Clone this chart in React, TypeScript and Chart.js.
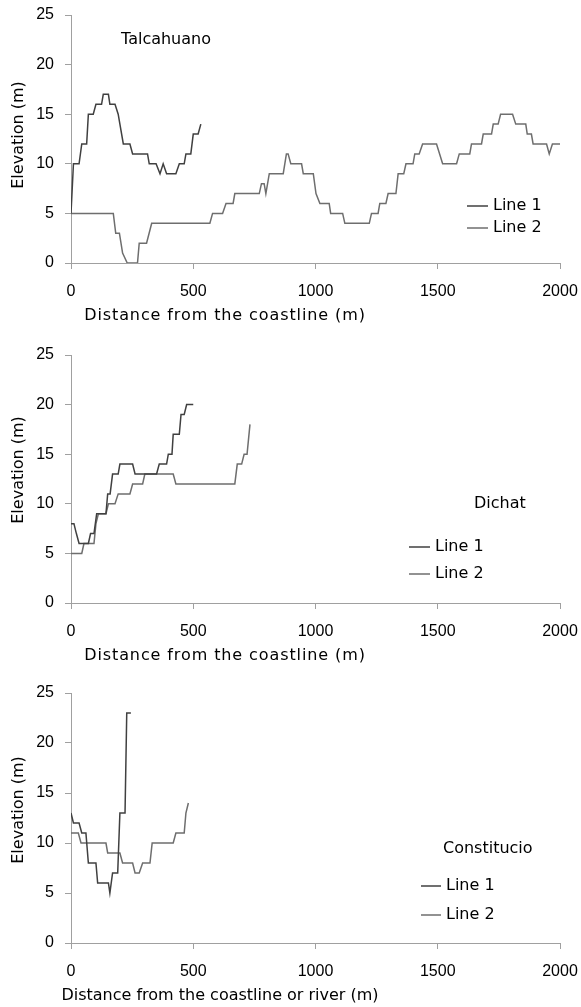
import React, { useEffect, useRef } from 'react';
import { Chart, registerables } from 'chart.js';

Chart.register(...registerables);

// ---------- Data ----------
const X_MIN = 0;
const X_MAX = 2000;
const X_STEP = 500;
const Y_MIN = 0;
const Y_MAX = 25;
const Y_STEP = 5;

const seriesNames = ['Line 1', 'Line 2'];
const siteNames = ['Talcahuano', 'Dichat', 'Constitucio'];
const xTitles = [
  'Distance from the coastline (m)',
  'Distance from the coastline (m)',
  'Distance from the coastline or river (m)',
];
const yTitle = 'Elevation (m)';

// Talcahuano
const talLine1X = [0, 10, 33, 44, 64, 71, 91, 102, 125, 132, 153, 159, 180, 193, 200, 214, 241, 252, 313, 320, 348, 364, 377, 391, 429, 443, 463, 470, 490, 500, 520, 531];
const talLine1Y = [5, 10, 10, 12, 12, 15, 15, 16, 16, 17, 17, 16, 16, 15, 14, 12, 12, 11, 11, 10, 10, 9, 10, 9, 9, 10, 10, 11, 11, 13, 13, 14];
const talLine2X = [0, 173, 183, 198, 211, 230, 272, 279, 309, 330, 568, 579, 620, 634, 663, 670, 770, 779, 790, 797, 811, 868, 881, 888, 899, 943, 950, 991, 1002, 1018, 1056, 1062, 1111, 1120, 1220, 1229, 1256, 1263, 1288, 1297, 1329, 1338, 1361, 1370, 1399, 1406, 1424, 1438, 1495, 1520, 1577, 1588, 1631, 1638, 1679, 1686, 1720, 1727, 1747, 1757, 1806, 1819, 1860, 1866, 1883, 1890, 1945, 1956, 1969, 2000];
const talLine2Y = [5, 5, 3, 3, 1, 0, 0, 2, 2, 4, 4, 5, 5, 6, 6, 7, 7, 8, 8, 7, 9, 9, 11, 11, 10, 10, 9, 9, 7, 6, 6, 5, 5, 4, 4, 5, 5, 6, 6, 7, 7, 9, 9, 10, 10, 11, 11, 12, 12, 10, 10, 11, 11, 12, 12, 13, 13, 14, 14, 15, 15, 14, 14, 13, 13, 12, 12, 11, 12, 12];

// Dichat
const dicLine1X = [0, 12, 22, 33, 71, 80, 94, 105, 143, 150, 160, 170, 193, 200, 252, 262, 350, 361, 391, 398, 413, 418, 443, 450, 463, 473, 500];
const dicLine1Y = [8, 8, 7, 6, 6, 7, 7, 9, 9, 11, 11, 13, 13, 14, 14, 13, 13, 14, 14, 15, 15, 17, 17, 19, 19, 20, 20];
const dicLine2X = [0, 44, 53, 94, 102, 112, 143, 153, 180, 193, 241, 252, 293, 302, 418, 429, 670, 680, 698, 708, 720, 732];
const dicLine2Y = [5, 5, 6, 6, 8, 9, 9, 10, 10, 11, 11, 12, 12, 13, 13, 12, 12, 14, 14, 15, 15, 18];

// Constitucio
const conLine1X = [0, 10, 33, 44, 61, 71, 102, 109, 153, 159, 170, 191, 200, 221, 228, 245];
const conLine1Y = [13, 12, 12, 11, 11, 8, 8, 6, 6, 5, 7, 7, 13, 13, 23, 23];
const conLine2X = [0, 30, 41, 143, 150, 200, 211, 252, 262, 279, 293, 323, 332, 418, 429, 463, 470, 480];
const conLine2Y = [11, 11, 10, 10, 9, 9, 8, 8, 7, 7, 8, 8, 10, 10, 11, 11, 13, 14];

// ---------- Styling ----------
const LINE_COLORS = ['#404040', '#6e6e6e'];
const AXIS_COLOR = '#a0a0a0';
const TICK_FONT = { family: "'Liberation Sans', Arial, sans-serif", size: 16 };
const TEXT_FAMILY = "'DejaVu Sans', sans-serif";

function pts(xs: number[], ys: number[]) {
  return xs.map((x, i) => ({ x, y: ys[i] }));
}

interface PanelSpec {
  top: number;
  height: number;
  padTop: number;
  l1x: number[];
  l1y: number[];
  l2x: number[];
  l2y: number[];
  site: string;
  siteX: number;
  siteY: number;
  legX: number;
  legW: number;
  legTextX: number;
  legY: number[];
  xTitle: string;
  xTitleX: number;
  xTitleSpacing: number;
  yTitleY: number;
}

const overlayPlugin = {
  id: 'overlay',
  afterDraw(chart: any, _args: any, opts: any) {
    const ctx = chart.ctx as any;
    const area = chart.chartArea;
    ctx.save();
    ctx.font = `16px ${TEXT_FAMILY}`;
    ctx.fillStyle = '#000';
    ctx.textBaseline = 'middle';
    ctx.textAlign = 'left';
    ctx.fillText(opts.site, opts.siteX, opts.siteY);
    for (let i = 0; i < 2; i++) {
      const y = opts.legY[i];
      ctx.strokeStyle = LINE_COLORS[i];
      ctx.lineWidth = 1.5;
      ctx.beginPath();
      ctx.moveTo(opts.legX, y);
      ctx.lineTo(opts.legX + opts.legW, y);
      ctx.stroke();
      ctx.fillText(seriesNames[i], opts.legTextX, y);
    }
    // x axis title
    ctx.textAlign = 'center';
    if ('letterSpacing' in ctx) ctx.letterSpacing = `${opts.xTitleSpacing}px`;
    ctx.fillText(opts.xTitle, opts.xTitleX, area.bottom + 53);
    if ('letterSpacing' in ctx) ctx.letterSpacing = '0px';
    // y axis title
    ctx.translate(19, opts.yTitleY);
    ctx.rotate(-Math.PI / 2);
    ctx.fillText(yTitle, 0, 0);
    ctx.restore();
  },
};

function Panel({ spec }: { spec: PanelSpec }) {
  const ref = useRef<HTMLCanvasElement | null>(null);
  useEffect(() => {
    if (!ref.current) return;
    const chart = new Chart(ref.current, {
      type: 'line',
      data: {
        datasets: [
          {
            label: seriesNames[0],
            data: pts(spec.l1x, spec.l1y),
            borderColor: LINE_COLORS[0],
            borderWidth: 1.5,
            pointRadius: 0,
            tension: 0,
            fill: false,
          },
          {
            label: seriesNames[1],
            data: pts(spec.l2x, spec.l2y),
            borderColor: LINE_COLORS[1],
            borderWidth: 1.5,
            pointRadius: 0,
            tension: 0,
            fill: false,
          },
        ],
      },
      options: {
        responsive: false,
        animation: false,
        devicePixelRatio: 1,
        layout: { padding: { top: spec.padTop, right: 21, left: 0, bottom: 0 } },
        plugins: {
          legend: { display: false },
          tooltip: { enabled: false },
          // @ts-ignore
          overlay: {
            site: spec.site,
            siteX: spec.siteX,
            siteY: spec.siteY,
            legX: spec.legX,
            legW: spec.legW,
            legTextX: spec.legTextX,
            legY: spec.legY,
            xTitle: spec.xTitle,
            xTitleX: spec.xTitleX,
            xTitleSpacing: spec.xTitleSpacing,
            yTitleY: spec.yTitleY,
          },
        },
        scales: {
          x: {
            type: 'linear',
            min: X_MIN,
            max: X_MAX,
            ticks: {
              stepSize: X_STEP,
              color: '#000',
              font: TICK_FONT,
              padding: 13,
              maxRotation: 0,
              callback: (v: any) => String(v),
            },
            grid: { drawOnChartArea: false, drawTicks: true, tickLength: 6, color: AXIS_COLOR },
            border: { display: true, color: AXIS_COLOR, width: 1 },
            title: { display: false },
            afterFit: (scale: any) => {
              scale.height = 64;
              scale.paddingLeft = 0;
              scale.paddingRight = 0;
            },
          },
          y: {
            type: 'linear',
            min: Y_MIN,
            max: Y_MAX,
            ticks: { stepSize: Y_STEP, color: '#000', font: TICK_FONT, padding: 11, callback: (v: any) => String(v) },
            grid: { drawOnChartArea: false, drawTicks: true, tickLength: 6, color: AXIS_COLOR },
            border: { display: true, color: AXIS_COLOR, width: 1 },
            title: { display: false },
            afterFit: (scale: any) => {
              scale.width = 71;
              scale.paddingTop = 0;
              scale.paddingBottom = 0;
            },
          },
        },
      },
      plugins: [overlayPlugin],
    } as any);
    return () => chart.destroy();
  }, [spec]);
  return (
    <canvas
      ref={ref}
      width={581}
      height={spec.height}
      style={{ position: 'absolute', left: 0, top: spec.top, display: 'block' }}
    />
  );
}

const panels: PanelSpec[] = [
  {
    top: 0, height: 327, padTop: 15,
    l1x: talLine1X, l1y: talLine1Y, l2x: talLine2X, l2y: talLine2Y,
    site: siteNames[0], siteX: 121, siteY: 40,
    legX: 467, legW: 21, legTextX: 493, legY: [206, 228],
    xTitle: xTitles[0], xTitleX: 225, xTitleSpacing: 0.9, yTitleY: 135,
  },
  {
    top: 330, height: 337, padTop: 25,
    l1x: dicLine1X, l1y: dicLine1Y, l2x: dicLine2X, l2y: dicLine2Y,
    site: siteNames[1], siteX: 474, siteY: 174,
    legX: 409, legW: 21, legTextX: 435, legY: [217, 244],
    xTitle: xTitles[1], xTitleX: 225, xTitleSpacing: 0.9, yTitleY: 140,
  },
  {
    top: 670, height: 337, padTop: 23,
    l1x: conLine1X, l1y: conLine1Y, l2x: conLine2X, l2y: conLine2Y,
    site: siteNames[2], siteX: 443, siteY: 179,
    legX: 421, legW: 20, legTextX: 446, legY: [216, 245],
    xTitle: xTitles[2], xTitleX: 220, xTitleSpacing: 0, yTitleY: 140,
  },
];

export default function App() {
  return (
    <div style={{ position: 'absolute', left: 0, top: 0, width: 581, height: 1007, background: '#fff' }}>
      {panels.map((p, i) => (
        <Panel key={i} spec={p} />
      ))}
    </div>
  );
}
